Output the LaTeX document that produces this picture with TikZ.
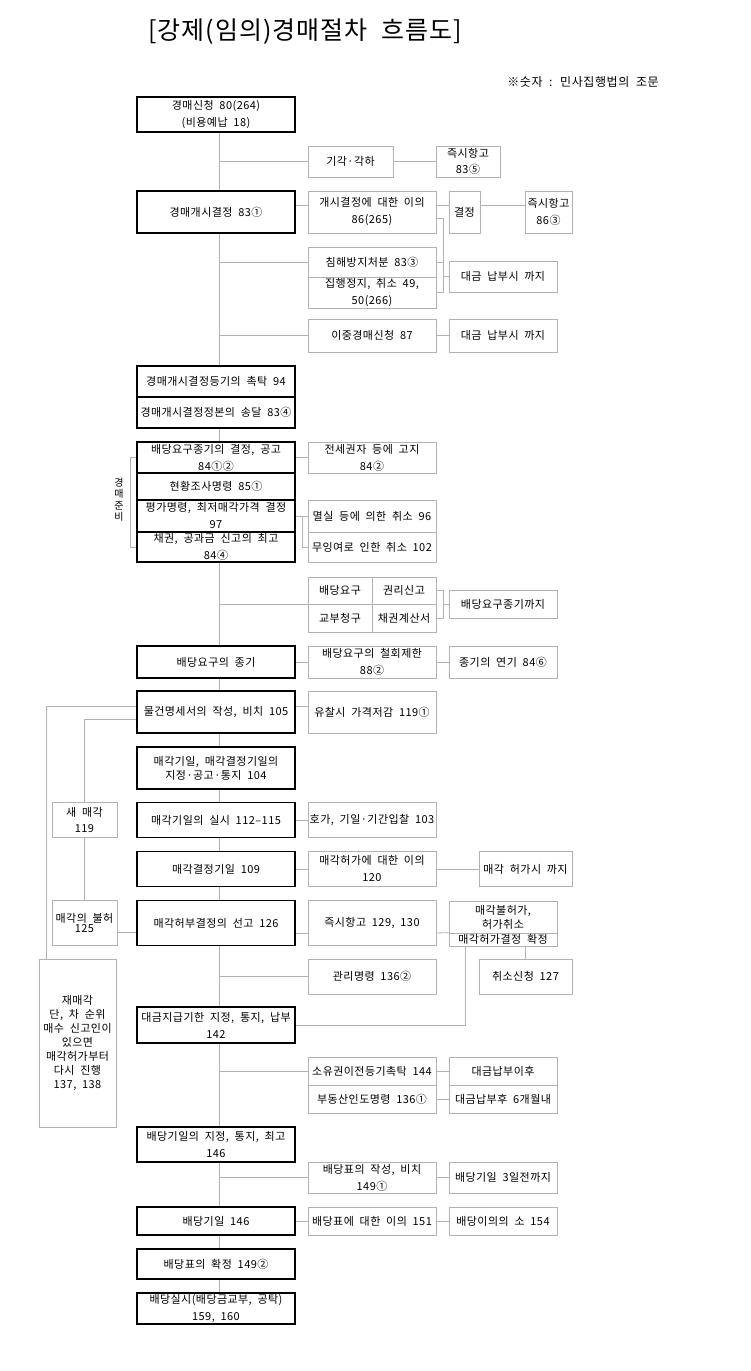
\documentclass[tikz,border=0pt]{standalone}
\usepackage{fontspec}
\setmainfont{Noto Sans CJK KR}[LetterSpace=4,WordSpace=2]
\usetikzlibrary{backgrounds}
\newcommand\boxfont{\fontsize{11}{17}\selectfont}
\newcommand\tightfont{\fontsize{11}{14}\selectfont}
\begin{document}
\begin{tikzpicture}[x=1pt,y=-1pt,
  mainbox/.style={draw,line width=1.5pt,fill=white,minimum width=158pt,align=center,inner sep=0pt,font=\boxfont},
  sidebox/.style={draw=black!30,line width=0.8pt,fill=white,align=center,inner sep=0pt,font=\boxfont},
  link/.style={draw=black!30,line width=0.8pt}]
\useasboundingbox (0,0) rectangle (750,1371);

% Title and note
\node[font=\fontsize{25}{28}\selectfont] (title) at (305,32) {[강제(임의)경매절차 흐름도]};
\node[font=\fontsize{12}{14}\selectfont\addfontfeatures{LetterSpace=5}] (note) at (583,82) {※숫자 : 민사집행법의 조문};

% Rails
\coordinate (sp) at (219,0);
\coordinate (brA) at (443,0);
\coordinate (brB) at (302,0);
\coordinate (brC) at (130,0);
\coordinate (brD) at (465,0);
\coordinate (railA) at (46,0);

% Main column
\node[mainbox,minimum height=35pt] (apply) at (216,114.5) {경매신청 80(264)\\(비용예납 18)};
\node[mainbox,minimum height=42pt] (start) at (216,212) {경매개시결정 83①};
\node[mainbox,minimum height=31pt] (reg) at (216,381.5) {경매개시결정등기의 촉탁 94};
\node[mainbox,minimum height=31pt] (serve) at (216,412.5) {경매개시결정정본의 송달 83④};
\node[mainbox,minimum height=31pt] (dead) at (216,457.5) {배당요구종기의 결정, 공고\\84①②};
\node[mainbox,minimum height=27pt] (survey) at (216,486.5) {현황조사명령 85①};
\node[mainbox,minimum height=32pt] (value) at (216,516) {평가명령, 최저매각가격 결정\\97};
\node[mainbox,minimum height=30pt] (claim) at (216,547) {채권, 공과금 신고의 최고\\84④};
\node[mainbox,minimum height=32pt] (close) at (216,662) {배당요구의 종기};
\node[mainbox,minimum height=42pt] (spec) at (216,712) {물건명세서의 작성, 비치 105};
\node[mainbox,minimum height=42pt,font=\tightfont] (notice) at (216,768) {매각기일, 매각결정기일의\\지정·공고·통지 104};
\node[mainbox,minimum height=35pt] (sale) at (216,820) {매각기일의 실시 112–115};
\node[mainbox,minimum height=35pt] (decday) at (216,869) {매각결정기일 109};
\node[mainbox,minimum height=45pt] (decide) at (216,923) {매각허부결정의 선고 126};
\node[mainbox,minimum height=36pt] (due) at (216,1025) {대금지급기한 지정, 통지, 납부\\142};
\node[mainbox,minimum height=35pt] (distset) at (216,1144.5) {배당기일의 지정, 통지, 최고\\146};
\node[mainbox,minimum height=28pt] (distday) at (216,1221) {배당기일 146};
\node[mainbox,minimum height=30pt] (confirm) at (216,1264) {배당표의 확정 149②};
\node[mainbox,minimum height=31pt] (pay) at (216,1308.5) {배당실시(배당금교부, 공탁)\\159, 160};

% Side boxes
\node[sidebox,minimum width=85pt,minimum height=31pt] (reject) at (350.5,161.5) {기각·각하};
\node[sidebox,minimum width=64pt,minimum height=31pt,font=\fontsize{11}{16}\selectfont] (rejapp) at (468,161.5) {즉시항고\\83⑤};
\node[sidebox,minimum width=128pt,minimum height=42pt] (object) at (372,212) {개시결정에 대한 이의\\86(265)};
\node[sidebox,minimum width=31pt,minimum height=42pt] (objdec) at (464.5,212) {결정};
\node[sidebox,minimum width=47pt,minimum height=42pt] (objapp) at (548.5,212) {즉시항고\\86③};
\node[sidebox,minimum width=128pt,minimum height=30pt] (prevent) at (372,262) {침해방지처분 83③};
\node[sidebox,minimum width=128pt,minimum height=31pt] (stay) at (372,292.5) {집행정지, 취소 49,\\50(266)};
\node[sidebox,minimum width=108pt,minimum height=31pt] (paid1) at (503,276.5) {대금 납부시 까지};
\node[sidebox,minimum width=128pt,minimum height=33pt] (double) at (372,335.5) {이중경매신청 87};
\node[sidebox,minimum width=108pt,minimum height=33pt] (paid2) at (503,335.5) {대금 납부시 까지};
\node[sidebox,minimum width=128pt,minimum height=31pt] (lessee) at (372,457.5) {전세권자 등에 고지\\84②};
\node[sidebox,minimum width=128pt,minimum height=32pt] (lost) at (372,516) {멸실 등에 의한 취소 96};
\node[sidebox,minimum width=128pt,minimum height=30pt] (surplus) at (372,547) {무잉여로 인한 취소 102};
\node[sidebox,minimum width=64pt,minimum height=27pt] (demand) at (340,590.5) {배당요구};
\node[sidebox,minimum width=64pt,minimum height=27pt] (right) at (404,590.5) {권리신고};
\node[sidebox,minimum width=64pt,minimum height=28pt] (grant) at (340,618) {교부청구};
\node[sidebox,minimum width=64pt,minimum height=28pt] (account) at (404,618) {채권계산서};
\node[sidebox,minimum width=108pt,minimum height=28pt] (untilend) at (503,604) {배당요구종기까지};
\node[sidebox,minimum width=128pt,minimum height=32pt] (withdraw) at (372,662) {배당요구의 철회제한\\88②};
\node[sidebox,minimum width=108pt,minimum height=32pt] (extend) at (503,662) {종기의 연기 84⑥};
\node[sidebox,minimum width=128pt,minimum height=42pt] (lower) at (372,712) {유찰시 가격저감 119①};
\node[sidebox,minimum width=128pt,minimum height=35pt] (bid) at (372,820) {호가, 기일·기간입찰 103};
\node[sidebox,minimum width=128pt,minimum height=35pt] (saleobj) at (372,869) {매각허가에 대한 이의\\120};
\node[sidebox,minimum width=93pt,minimum height=35pt] (untilperm) at (525.5,869) {매각 허가시 까지};
\node[sidebox,minimum width=128pt,minimum height=45pt] (appeal) at (372,923) {즉시항고 129, 130};
\node[sidebox,minimum width=108pt,minimum height=32pt,font=\tightfont] (deny) at (503,917) {매각불허가,\\허가취소};
\node[sidebox,minimum width=108pt,minimum height=13pt] (final) at (503,939.5) {매각허가결정 확정};
\node[sidebox,minimum width=128pt,minimum height=35pt] (manage) at (372,976.5) {관리명령 136②};
\node[sidebox,minimum width=93pt,minimum height=35pt] (cancel) at (525.5,976.5) {취소신청 127};
\node[sidebox,minimum width=128pt,minimum height=28pt] (owner) at (372,1071) {소유권이전등기촉탁 144};
\node[sidebox,minimum width=128pt,minimum height=28pt] (deliver) at (372,1099) {부동산인도명령 136①};
\node[sidebox,minimum width=108pt,minimum height=28pt] (afterpay) at (503,1071) {대금납부이후};
\node[sidebox,minimum width=108pt,minimum height=28pt] (sixmon) at (503,1099) {대금납부후 6개월내};
\node[sidebox,minimum width=128pt,minimum height=31pt] (table) at (372,1177.5) {배당표의 작성, 비치\\149①};
\node[sidebox,minimum width=108pt,minimum height=31pt] (threeday) at (503,1177.5) {배당기일 3일전까지};
\node[sidebox,minimum width=128pt,minimum height=28pt] (tableobj) at (372,1221) {배당표에 대한 이의 151};
\node[sidebox,minimum width=108pt,minimum height=28pt] (suit) at (503,1221) {배당이의의 소 154};

% Left side boxes
\node[font=\fontsize{10}{11.5}\selectfont,align=center,inner sep=0pt] (prep) at (119,500) {경\\매\\준\\비};
\node[sidebox,minimum width=65pt,minimum height=35pt,font=\fontsize{11}{16}\selectfont] (newsale) at (84.5,820) {새 매각\\119};
\node[sidebox,minimum width=65pt,minimum height=45pt,font=\fontsize{11}{10.5}\selectfont] (refuse) at (84.5,923) {매각의 불허\\125};
\node[sidebox,minimum width=77pt,minimum height=168pt,font=\tightfont] (resale) at (77.5,1043) {재매각\\단, 차 순위\\매수 신고인이\\있으면\\매각허가부터\\다시 진행\\137, 138};

% Spine
\begin{scope}[on background layer]
\draw[link] (sp |- apply.south) -- (sp |- pay.north);
\end{scope}

% Branches from the spine
\draw[link] (sp |- reject.west) -- (reject.west);
\draw[link] (sp |- prevent.west) -- (prevent.west);
\draw[link] (sp |- double.west) -- (double.west);
\draw[link] (sp |- demand.south) -- (demand.south west);
\draw[link] (sp |- manage.west) -- (manage.west);
\draw[link] (sp |- owner.west) -- (owner.west);
\draw[link] (sp |- table.west) -- (table.west);

% Side links
\draw[link] (reject) -- (rejapp);
\draw[link] ([yshift=7pt]start.east) -- ([yshift=7pt]object.west);
\draw[link] ([yshift=7pt]object.east) -- ([yshift=7pt]objdec.west);
\draw[link] ([yshift=7pt]objdec.east) -- ([yshift=7pt]objapp.west);
\draw[link] ([yshift=-6pt]object.east) -| (brA |- stay.east) -- (stay.east);
\draw[link] (prevent.east) -- (brA |- prevent.east);
\draw[link] (brA |- paid1.west) -- (paid1.west);
\draw[link] (double) -- (paid2);
\draw[link] (dead) -- (lessee);
\draw[link] (value) -- (lost);
\draw[link] (brB |- value.east) |- (surplus.west);
\draw[link] (dead.west) -| (brC |- claim.west) -- (claim.west);
\draw[link] (right.east) -| (brA |- account.east) -- (account.east);
\draw[link] (brA |- untilend.west) -- (untilend.west);
\draw[link] (close) -- (withdraw);
\draw[link] (withdraw) -- (extend);
\draw[link] ([yshift=6pt]spec.east) -- ([yshift=6pt]lower.west);
\draw[link] (sale) -- (bid);
\draw[link] (decday) -- (saleobj);
\draw[link] (saleobj) -- (untilperm);
\draw[link] ([yshift=-10pt]decide.east) -- ([yshift=-10pt]appeal.west);
\draw[link] ([yshift=-10pt]appeal.east) -- (final.north west);
\draw[link] (cancel.north |- final.south) -- (cancel.north);
\draw[link] (brD |- final.south) |- (due.east);
\draw[link] (owner) -- (afterpay);
\draw[link] (deliver) -- (sixmon);
\draw[link] (table) -- (threeday);
\draw[link] (distday) -- (tableobj);
\draw[link] (tableobj) -- (suit);

% Re-sale loop on the left
\draw[link] ([yshift=6pt]spec.west) -| (railA |- resale.north);
\draw[link] ([yshift=-7pt]spec.west) -| (newsale.north);
\draw[link] (newsale) -- (refuse);
\draw[link] ([yshift=-9pt]refuse.east) -- ([yshift=-9pt]decide.west);

\end{tikzpicture}
\end{document}
